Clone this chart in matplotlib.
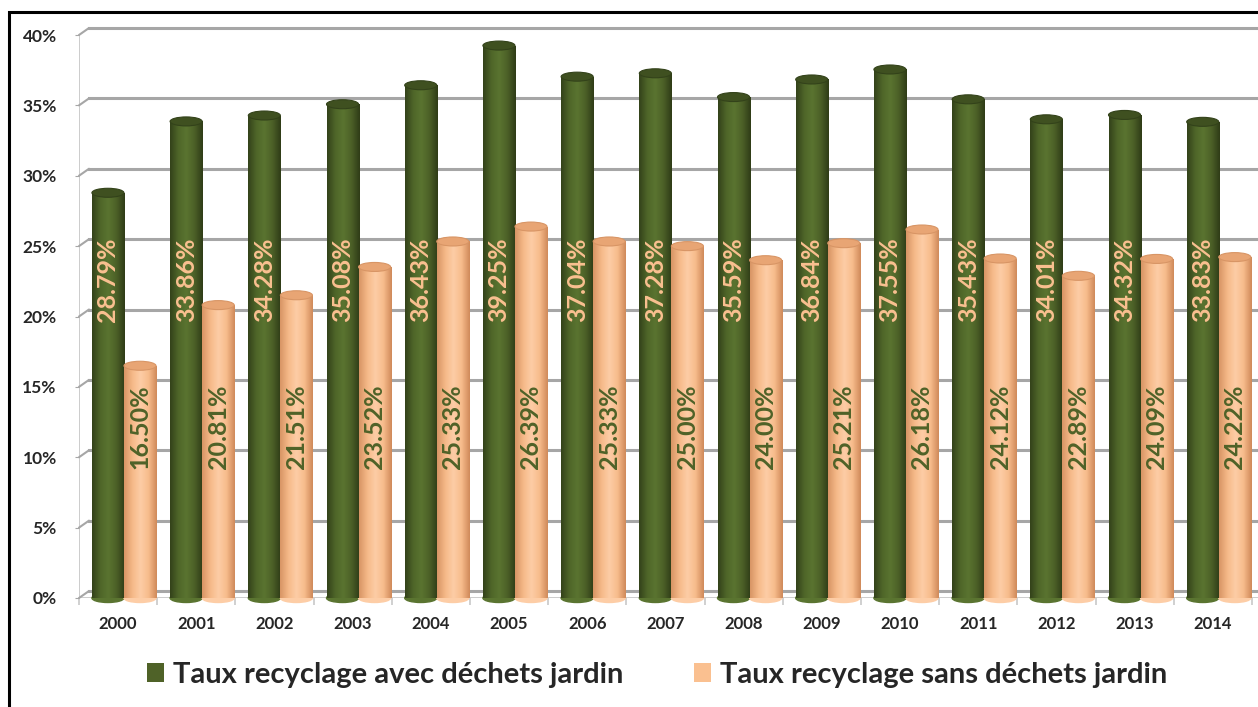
import numpy as np
import matplotlib
matplotlib.use("Agg")
import matplotlib.pyplot as plt
from matplotlib.patches import Ellipse, Rectangle, Patch
from matplotlib.colors import LinearSegmentedColormap
import matplotlib.transforms as mtransforms

plt.rcParams['font.family'] = ['Lato', 'DejaVu Sans']
plt.rcParams['font.weight'] = 'bold'

# data
years = ['2000', '2001', '2002', '2003', '2004', '2005', '2006', '2007',
         '2008', '2009', '2010', '2011', '2012', '2013', '2014']
avec_jardin = [28.79, 33.86, 34.28, 35.08, 36.43, 39.25, 37.04, 37.28,
               35.59, 36.84, 37.55, 35.43, 34.01, 34.32, 33.83]
sans_jardin = [16.50, 20.81, 21.51, 23.52, 25.33, 26.39, 25.33, 25.00,
               24.00, 25.21, 26.18, 24.12, 22.89, 24.09, 24.22]
serie_names = ['Taux recyclage avec déchets jardin', 'Taux recyclage sans déchets jardin']
y_ticks = [0, 5, 10, 15, 20, 25, 30, 35, 40]

GREEN = '#4F6228'
ORANGE = '#FAC090'
GRID = '#A6A6A6'

W, H = 1258, 707
fig = plt.figure(figsize=(W / 100, H / 100), dpi=100)

# axes in pixel units (one category = 78.2 px, 0% at y=598, 40% at y=35)
unit = 78.2
x0, ybot, ytop = 79, 598, 35
x_right = W + 12
ax = fig.add_axes([x0 / W, (H - ybot) / H, (x_right - x0) / W, (ybot - ytop) / H])
xmax = (x_right - x0) / unit
ax.set_xlim(0, xmax)
ax.set_ylim(0, 40)
for s in ax.spines.values():
    s.set_visible(False)

# back wall / floor (3D look)
back = mtransforms.offset_copy(ax.transData, fig=fig, x=10, y=7, units='dots')
for v in y_ticks:
    ax.plot([0, xmax], [v, v], color=GRID, lw=2.2, transform=back, zorder=0, clip_on=False)
    ax.annotate('', xy=(0, v), xycoords=back, xytext=(0, v), textcoords='data',
                arrowprops=dict(arrowstyle='-', color=GRID, lw=1.5, shrinkA=0, shrinkB=0))
ax.plot([0, 0], [0, 40], color='#C8C8C8', lw=1.3, zorder=0)
ax.plot([0, xmax], [0, 0], color='#C8C8C8', lw=1.3, zorder=0)

# cylinders
cmap_g = LinearSegmentedColormap.from_list('g', ['#33421A', '#4F6629', '#5A7430', '#4C6027', '#2F3C17'])
cmap_o = LinearSegmentedColormap.from_list('o', ['#D89565', '#F5B988', '#FDCDA6', '#F7BC8C', '#D08A5A'])
grad = np.linspace(0, 1, 64).reshape(1, -1)
px_y = 40 / (ybot - ytop)
cap_h = 9 * px_y

idx = np.arange(len(years))
series = [(avec_jardin, 0.165, cmap_g, GREEN, '#3F5020', ORANGE, 22.6),
          (sans_jardin, 0.575, cmap_o, ORANGE, '#E8A574', GREEN, 12.2)]
bw = 0.41
for vals, off, cmap, col, capcol, txtcol, ylab in series:
    bars = ax.bar(idx + off, vals, width=bw, align='edge', color=col,
                  edgecolor='none', zorder=2)
    for b, v in zip(bars, vals):
        xl = b.get_x()
        im = ax.imshow(grad, cmap=cmap, aspect='auto', extent=[xl, xl + bw, 0, v],
                       zorder=2.1, interpolation='bicubic')
        im.set_clip_path(b)
        ax.add_patch(Ellipse((xl + bw / 2, 0), bw, cap_h, color=cmap(0.5),
                             zorder=1.9, clip_on=False))
        ax.add_patch(Ellipse((xl + bw / 2, v), bw, cap_h, facecolor=capcol,
                             edgecolor=cmap(0.0), lw=0.8, zorder=2.5))
        ax.text(xl + bw / 2, ylab, f'{v:.2f}%', rotation=90, ha='center', va='center',
                color=txtcol, fontsize=18, fontweight='bold', zorder=3)

ax.set_xlim(0, xmax)
ax.set_ylim(0, 40)

# ticks
ax.set_yticks(y_ticks)
ax.set_yticklabels([f'{v}%' for v in y_ticks], fontsize=12.5, fontweight='bold', color='#262626')
ax.tick_params(axis='y', length=3, color=GRID, pad=13)
ax.set_xticks(np.arange(0, 16))
ax.set_xticklabels([])
ax.tick_params(axis='x', which='major', length=5, color='#C8C8C8', width=1.2)
ax.set_xticks(idx + 0.5, minor=True)
ax.set_xticklabels(years, minor=True, fontsize=12, fontweight='bold', color='#262626')
ax.tick_params(axis='x', which='minor', length=0, pad=13)

# legend
handles = [Patch(facecolor=GREEN), Patch(facecolor=ORANGE)]
fig.legend(handles, serie_names, loc='center', bbox_to_anchor=(657 / W, 32 / H),
           ncol=2, frameon=False, prop={'family': 'Lato', 'weight': 'bold', 'size': 21},
           handlelength=0.6, handleheight=0.6, handletextpad=0.3, columnspacing=2.4,
           labelcolor='#262626')

# outer frame (only left and top visible)
fig.add_artist(Rectangle((9 / W, -0.5), 2, 695 / H + 0.5, transform=fig.transFigure,
                         fill=False, edgecolor='black', lw=2.2))

fig.savefig('out.png', dpi=100)
